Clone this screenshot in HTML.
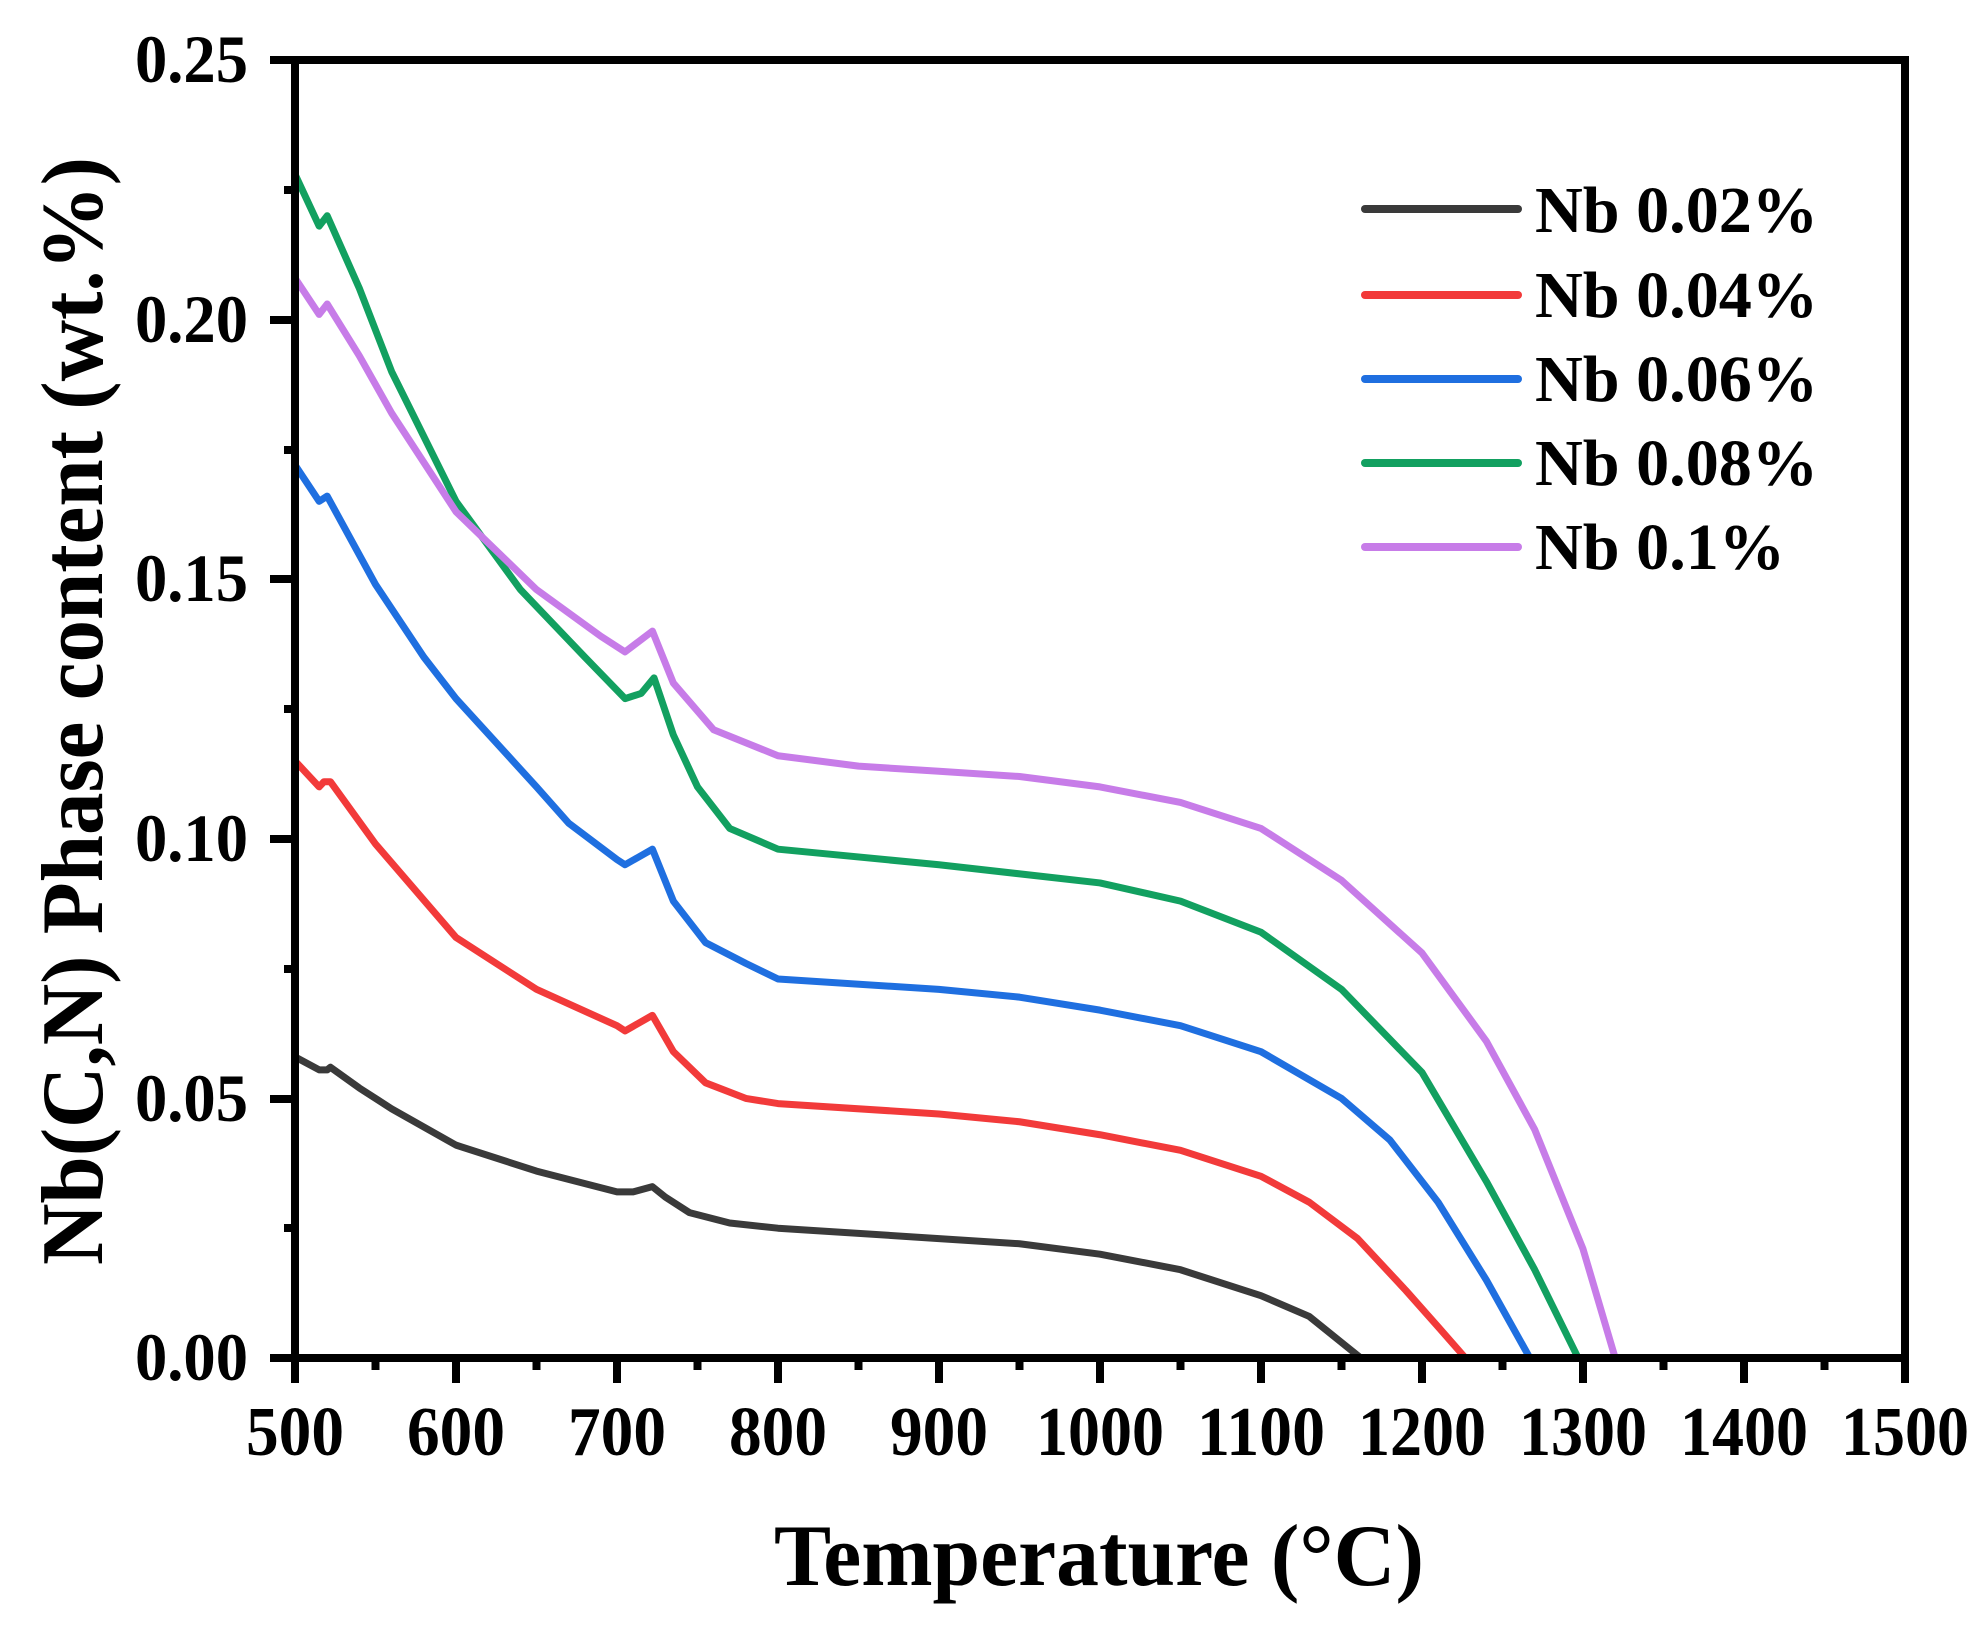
<!DOCTYPE html>
<html><head><meta charset="utf-8"><style>
html,body{margin:0;padding:0;background:#fff;width:1987px;height:1627px;overflow:hidden}
svg{display:block}
text{font-family:"Liberation Serif",serif;font-weight:bold;fill:#000}
</style></head><body>
<svg width="1987" height="1627" viewBox="0 0 1987 1627" xmlns="http://www.w3.org/2000/svg">
<g transform="translate(295,1358) scale(1.61,-5192)" fill="none" stroke-width="7" stroke-linejoin="round">
<polyline vector-effect="non-scaling-stroke" stroke="#3a3a3a" points="0,0.058 15,0.0555 20,0.0555 22,0.056 40,0.052 60,0.048 100,0.041 150,0.036 200,0.032 210,0.032 222,0.033 230,0.031 245,0.028 270,0.026 300,0.025 400,0.023 450,0.022 500,0.020 550,0.017 600,0.012 630,0.008 650,0.003 662,0"/>
<polyline vector-effect="non-scaling-stroke" stroke="#f23a3a" points="0,0.115 15,0.110 18,0.111 22,0.111 50,0.099 100,0.081 150,0.071 200,0.064 205,0.063 222,0.066 235,0.059 255,0.053 280,0.050 300,0.049 400,0.047 450,0.0455 500,0.043 550,0.040 600,0.035 630,0.030 660,0.023 690,0.013 710,0.006 727,0"/>
<polyline vector-effect="non-scaling-stroke" stroke="#1f6fe0" points="0,0.172 15,0.165 20,0.166 50,0.149 80,0.135 100,0.127 150,0.110 170,0.103 200,0.096 205,0.095 222,0.098 235,0.088 255,0.080 280,0.076 300,0.073 400,0.071 450,0.0695 500,0.067 550,0.064 600,0.059 650,0.050 680,0.042 710,0.030 740,0.015 767,0"/>
<polyline vector-effect="non-scaling-stroke" stroke="#12a060" points="0,0.228 15,0.218 20,0.220 40,0.206 60,0.190 100,0.165 140,0.148 180,0.135 205,0.127 215,0.128 223,0.131 235,0.120 250,0.110 270,0.102 300,0.098 400,0.095 500,0.0915 550,0.088 600,0.082 650,0.071 700,0.055 740,0.034 770,0.017 797,0"/>
<polyline vector-effect="non-scaling-stroke" stroke="#c77ce8" points="0,0.208 15,0.201 20,0.203 40,0.193 60,0.182 100,0.163 150,0.148 190,0.139 205,0.136 222,0.140 235,0.130 260,0.121 300,0.116 350,0.114 400,0.113 450,0.112 500,0.110 550,0.107 600,0.102 650,0.092 700,0.078 740,0.061 770,0.044 800,0.021 820,0"/>
</g>
<g stroke="#000" stroke-width="8" fill="none">
<rect x="295" y="60" width="1610" height="1298"/>
<path d="M270,60H295M270,320H295M270,579H295M270,839H295M270,1099H295M270,1358H295"/>
<path d="M284,190H295M284,450H295M284,709H295M284,969H295M284,1228H295"/>
<path d="M295,1358V1383M456,1358V1383M617,1358V1383M778,1358V1383M939,1358V1383M1100,1358V1383M1261,1358V1383M1422,1358V1383M1583,1358V1383M1744,1358V1383M1905,1358V1383"/>
<path d="M375.5,1358V1370M536.5,1358V1370M697.5,1358V1370M858.5,1358V1370M1019.5,1358V1370M1180.5,1358V1370M1341.5,1358V1370M1502.5,1358V1370M1663.5,1358V1370M1824.5,1358V1370"/>
</g>
<g font-size="68">
<text x="135" y="82" textLength="113" lengthAdjust="spacingAndGlyphs">0.25</text>
<text x="135" y="342" textLength="113" lengthAdjust="spacingAndGlyphs">0.20</text>
<text x="135" y="601" textLength="113" lengthAdjust="spacingAndGlyphs">0.15</text>
<text x="135" y="861" textLength="113" lengthAdjust="spacingAndGlyphs">0.10</text>
<text x="135" y="1121" textLength="113" lengthAdjust="spacingAndGlyphs">0.05</text>
<text x="135" y="1380" textLength="113" lengthAdjust="spacingAndGlyphs">0.00</text>
</g>
<g font-size="70">
<text x="246" y="1455" textLength="98" lengthAdjust="spacingAndGlyphs">500</text>
<text x="407" y="1455" textLength="98" lengthAdjust="spacingAndGlyphs">600</text>
<text x="568" y="1455" textLength="98" lengthAdjust="spacingAndGlyphs">700</text>
<text x="729" y="1455" textLength="98" lengthAdjust="spacingAndGlyphs">800</text>
<text x="890" y="1455" textLength="98" lengthAdjust="spacingAndGlyphs">900</text>
<text x="1036" y="1455" textLength="128" lengthAdjust="spacingAndGlyphs">1000</text>
<text x="1197" y="1455" textLength="128" lengthAdjust="spacingAndGlyphs">1100</text>
<text x="1358" y="1455" textLength="128" lengthAdjust="spacingAndGlyphs">1200</text>
<text x="1519" y="1455" textLength="128" lengthAdjust="spacingAndGlyphs">1300</text>
<text x="1680" y="1455" textLength="128" lengthAdjust="spacingAndGlyphs">1400</text>
<text x="1841" y="1455" textLength="128" lengthAdjust="spacingAndGlyphs">1500</text>
</g>
<text x="774" y="1585" font-size="88" textLength="650" lengthAdjust="spacingAndGlyphs">Temperature (°C)</text>
<text transform="translate(102,1265) rotate(-90)" font-size="88" textLength="1108" lengthAdjust="spacingAndGlyphs">Nb(C,N) Phase content (wt.%)</text>
<g stroke-width="8" stroke-linecap="round">
<line x1="1365" y1="209" x2="1518" y2="209" stroke="#3a3a3a"/>
<line x1="1365" y1="295" x2="1518" y2="295" stroke="#f23a3a"/>
<line x1="1365" y1="379" x2="1518" y2="379" stroke="#1f6fe0"/>
<line x1="1365" y1="463" x2="1518" y2="463" stroke="#12a060"/>
<line x1="1365" y1="547" x2="1518" y2="547" stroke="#c77ce8"/>
</g>
<g font-size="66">
<text x="1535" y="232" textLength="283" lengthAdjust="spacingAndGlyphs">Nb 0.02%</text>
<text x="1535" y="317" textLength="283" lengthAdjust="spacingAndGlyphs">Nb 0.04%</text>
<text x="1535" y="401" textLength="283" lengthAdjust="spacingAndGlyphs">Nb 0.06%</text>
<text x="1535" y="485" textLength="283" lengthAdjust="spacingAndGlyphs">Nb 0.08%</text>
<text x="1535" y="569" textLength="250" lengthAdjust="spacingAndGlyphs">Nb 0.1%</text>
</g>
</svg>
</body></html>
